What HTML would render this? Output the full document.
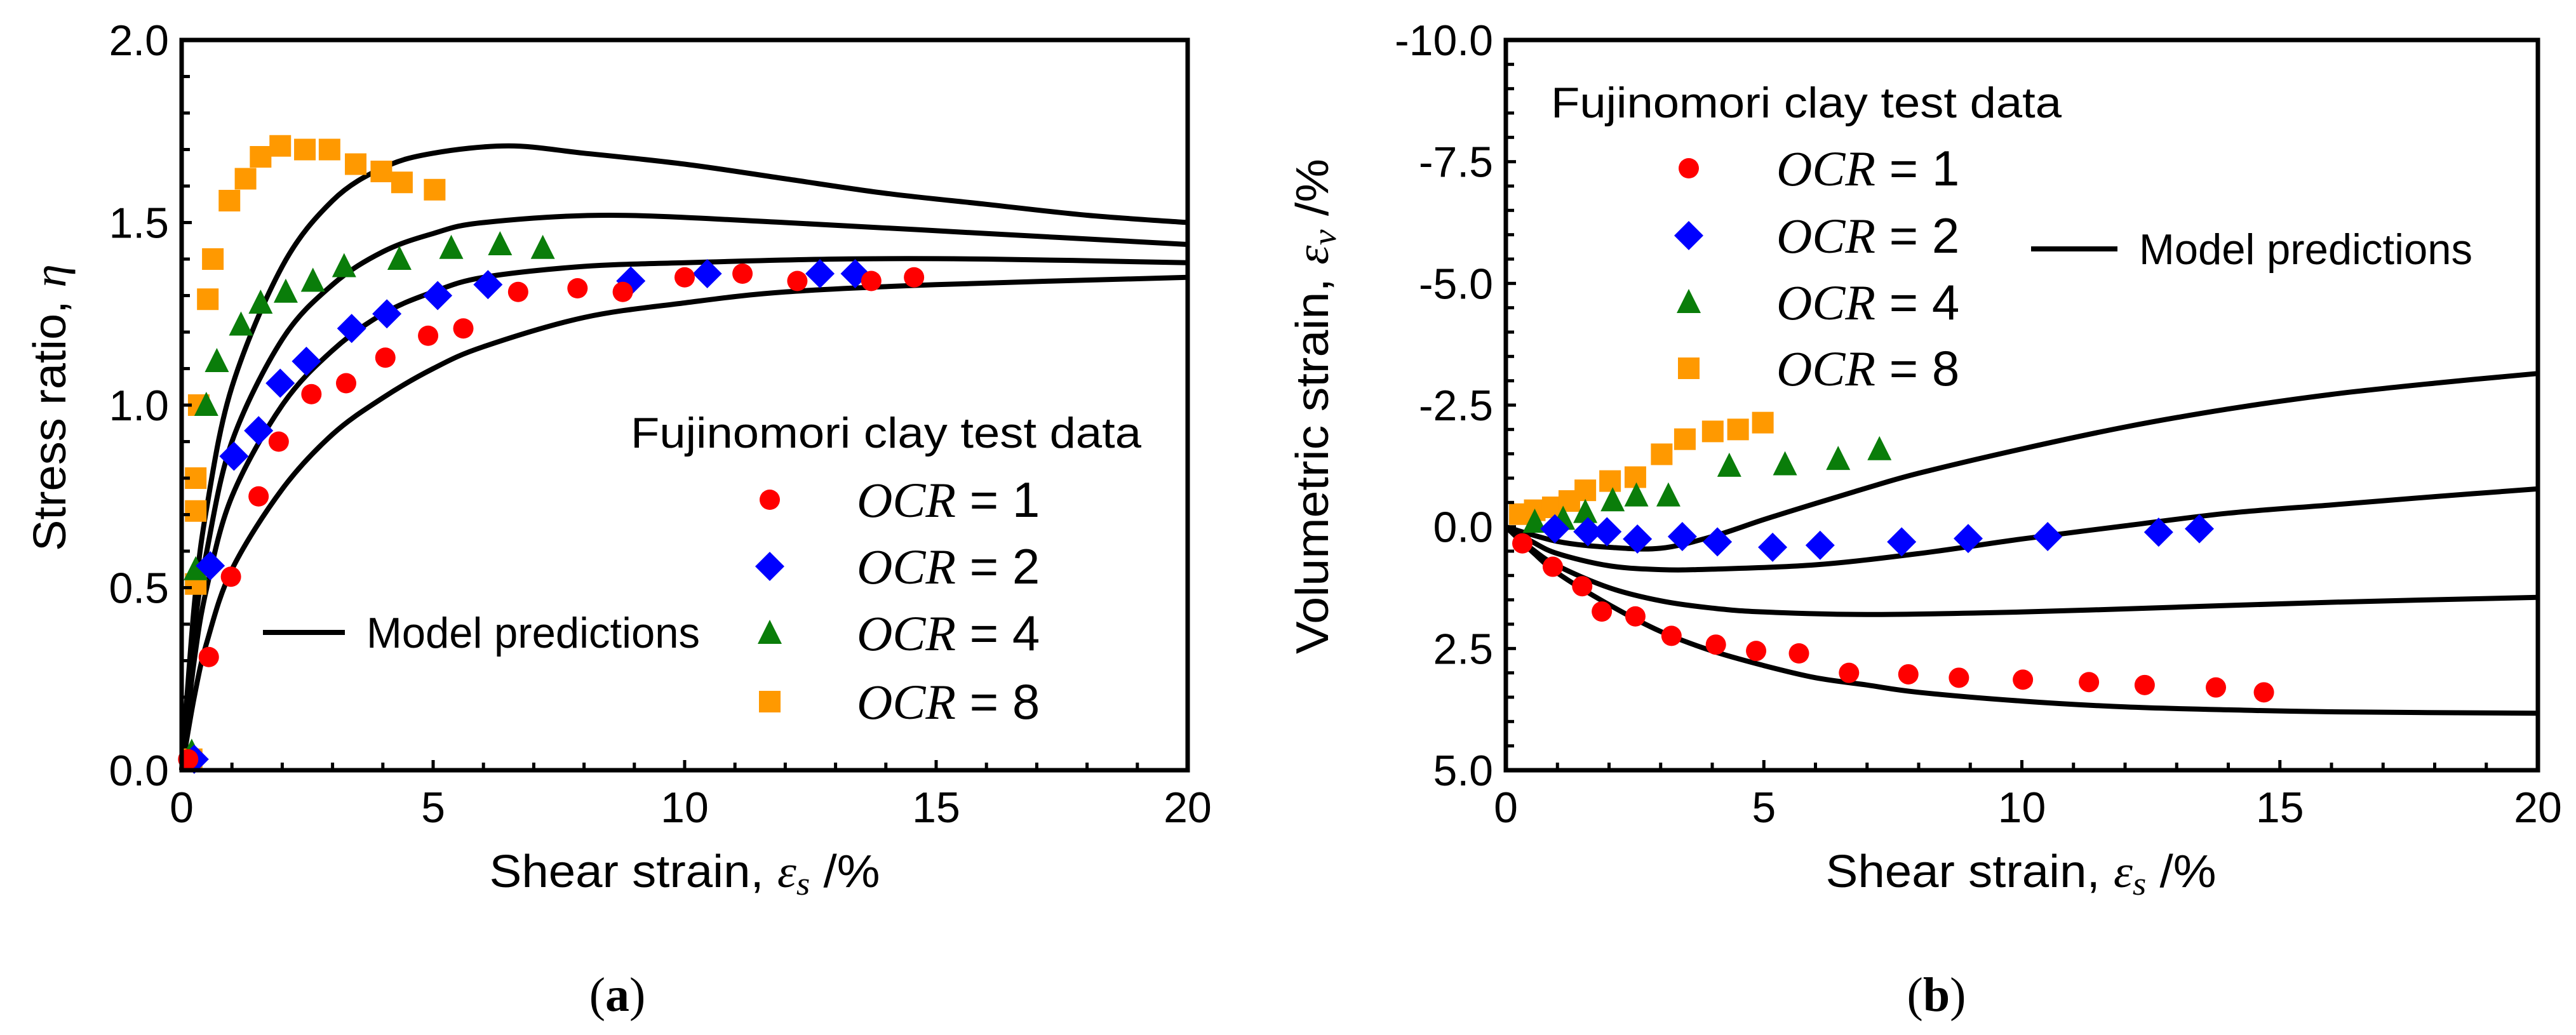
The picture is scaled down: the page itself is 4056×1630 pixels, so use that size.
<!DOCTYPE html>
<html><head><meta charset="utf-8"><style>
html,body{margin:0;padding:0;background:#fff;}
svg{display:block;}
text{font-family:"Liberation Sans",sans-serif;fill:#000;}
.ser{font-family:"Liberation Serif",serif;font-style:italic;}
</style></head><body>
<svg id="fig" width="4056" height="1630" viewBox="0 0 4056 1630" xmlns="http://www.w3.org/2000/svg">
<g id="pa"></g>
<g id="pb"></g>
</svg>
<script>
// ---------- Panel (a) data ----------
const aOcr1X=[0.13,0.54,0.98,1.53,1.93,2.58,3.27,4.05,4.9,5.6,6.69,7.87,8.77,10.0,11.15,12.24,13.71,14.56];
const aOcr1Y=[0.03,0.31,0.53,0.75,0.90,1.03,1.06,1.13,1.19,1.21,1.31,1.32,1.31,1.35,1.36,1.34,1.34,1.35];
const aOcr2X=[0.25,0.57,1.04,1.53,1.96,2.48,3.38,4.08,5.09,6.09,8.93,10.45,12.69,13.39];
const aOcr2Y=[0.03,0.56,0.86,0.93,1.06,1.12,1.21,1.25,1.30,1.33,1.34,1.36,1.36,1.36];
const aOcr4X=[0.2,0.28,0.49,0.7,1.18,1.57,2.07,2.61,3.23,4.33,5.36,6.33,7.18];
const aOcr4Y=[0.05,0.55,1.0,1.12,1.22,1.28,1.31,1.34,1.38,1.40,1.43,1.44,1.43];
const aOcr8X=[0.2,0.28,0.28,0.28,0.34,0.52,0.62,0.95,1.27,1.57,1.96,2.45,2.94,3.46,3.97,4.38,5.03];
const aOcr8Y=[0.03,0.51,0.71,0.80,1.0,1.29,1.40,1.56,1.62,1.68,1.71,1.70,1.70,1.66,1.64,1.61,1.59];
const aM1X=[0,0.25,0.5,1,2,3,4,5,6.5,8,10,12,14,16,18,20];
const aM1Y=[0,0.45,0.72,1.05,1.38,1.56,1.65,1.69,1.71,1.69,1.66,1.62,1.58,1.55,1.52,1.50];
const aM2X=[0,0.25,0.5,1,2,3,4,5,6,8.5,12,16,20];
const aM2Y=[0,0.38,0.6,0.9,1.18,1.33,1.42,1.47,1.50,1.52,1.50,1.47,1.44];
const aM3X=[0,0.25,0.5,1,2,3,4,5,6,8,10,13,16,20];
const aM3Y=[0,0.3,0.5,0.75,1.0,1.15,1.25,1.31,1.35,1.38,1.39,1.40,1.40,1.39];
const aM4X=[0,0.25,0.5,1,2,3,4,5,6,8,10,12,15,20];
const aM4Y=[0,0.2,0.35,0.55,0.77,0.92,1.02,1.10,1.16,1.24,1.28,1.31,1.33,1.35];
const aXTicks=[0,5,10,15,20];
const aYTicks=[0,0.5,1.0,1.5,2.0];
const aYLabels=["0.0","0.5","1.0","1.5","2.0"];
// ---------- Panel (b) data ----------
const bOcr1X=[0.32,0.91,1.48,1.86,2.51,3.21,4.07,4.85,5.68,6.65,7.8,8.78,10.02,11.3,12.38,13.76,14.69];
const bOcr1Y=[0.34,0.82,1.22,1.74,1.84,2.24,2.42,2.55,2.60,3.0,3.03,3.10,3.14,3.19,3.25,3.30,3.40];
const bOcr2X=[0.95,1.59,1.96,2.55,3.42,4.1,5.17,6.09,7.67,8.96,10.5,12.65,13.44];
const bOcr2Y=[0.04,0.1,0.1,0.25,0.2,0.31,0.42,0.38,0.31,0.24,0.2,0.11,0.04];
const bOcr4X=[0.56,1.11,1.54,2.07,2.53,3.15,4.33,5.41,6.44,7.24];
const bOcr4Y=[-0.1,-0.16,-0.30,-0.54,-0.64,-0.64,-1.25,-1.28,-1.39,-1.59];
const bOcr8X=[0.27,0.56,0.91,1.23,1.54,2.02,2.51,3.02,3.47,4.01,4.5,4.98];
const bOcr8Y=[-0.26,-0.34,-0.40,-0.53,-0.75,-0.94,-1.02,-1.49,-1.80,-1.96,-2.0,-2.14];
const bM1X=[0,1,2,3,4,5,6,7,8,10,12,14,16,18,20];
const bM1Y=[0,0.3,0.42,0.44,0.2,-0.15,-0.48,-0.8,-1.1,-1.6,-2.05,-2.42,-2.72,-2.95,-3.15];
const bM2X=[0,0.5,1,2,3,4,6,8,10,12,14,16,18,20];
const bM2Y=[0,0.3,0.55,0.8,0.88,0.87,0.78,0.55,0.25,-0.02,-0.28,-0.45,-0.62,-0.78];
const bM3X=[0,0.5,1,2,3,4,5,7,10,13,16,20];
const bM3Y=[0,0.45,0.8,1.25,1.52,1.67,1.75,1.8,1.75,1.65,1.55,1.45];
const bM4X=[0,0.5,1,2,3,4,5,6,7,8,10,12,14,16,20];
const bM4Y=[0,0.5,0.95,1.6,2.15,2.55,2.85,3.1,3.25,3.4,3.58,3.7,3.76,3.8,3.83];
const bXTicks=[0,5,10,15,20];
const bYTicks=[-10,-7.5,-5,-2.5,0,2.5,5];
const bYLabels=["-10.0","-7.5","-5.0","-2.5","0.0","2.5","5.0"];

const NS="http://www.w3.org/2000/svg";
function mk(tag,attrs,parent){const e=document.createElementNS(NS,tag);for(const k in attrs)e.setAttribute(k,attrs[k]);parent.appendChild(e);return e;}
const COL={r:"#ff0000",b:"#0000ff",g:"#0a7d0a",o:"#ff9900"};

function smoothPath(pts){
  let d="M"+pts[0][0].toFixed(1)+","+pts[0][1].toFixed(1);
  for(let i=0;i<pts.length-1;i++){
    const p0=pts[Math.max(0,i-1)],p1=pts[i],p2=pts[i+1],p3=pts[Math.min(pts.length-1,i+2)];
    const c1x=p1[0]+(p2[0]-p0[0])/6,c1y=p1[1]+(p2[1]-p0[1])/6;
    const c2x=p2[0]-(p3[0]-p1[0])/6,c2y=p2[1]-(p3[1]-p1[1])/6;
    d+=" C"+c1x.toFixed(1)+","+c1y.toFixed(1)+" "+c2x.toFixed(1)+","+c2y.toFixed(1)+" "+p2[0].toFixed(1)+","+p2[1].toFixed(1);
  }
  return d;
}
function marker(g,type,cx,cy){
  let e;
  if(type==="circle"){e=mk("ellipse",{cx:cx,cy:cy,rx:16,ry:16,fill:COL.r},g);}
  else if(type==="diamond"){e=mk("polygon",{points:`${cx},${cy-23} ${cx+23},${cy} ${cx},${cy+23} ${cx-23},${cy}`,fill:COL.b},g);}
  else if(type==="triangle"){e=mk("polygon",{points:`${cx},${cy-21} ${cx+19},${cy+17} ${cx-19},${cy+17}`,fill:COL.g},g);}
  else {e=mk("rect",{x:cx-17,y:cy-17,width:34,height:34,fill:COL.o},g);}
  return e;
}

function panel(g,cfg){
  const {L,R,T,B,x0,x1,y0,y1}=cfg;
  const sx=v=>L+(v-x0)/(x1-x0)*(R-L);
  const sy=v=>B-(v-y0)/(y1-y0)*(B-T);
  // model curves
  cfg.models.forEach((m,i)=>{
    const pts=m[0].map((x,j)=>[sx(x),sy(m[1][j])]);
    const p=mk("path",{d:smoothPath(pts),fill:"none",stroke:"#000","stroke-width":8,"stroke-linejoin":"round"},g);
    
    
  });
  // data markers
  cfg.series.forEach(s=>{
    const sg=mk("g",{},g);
    
    
    s.x.forEach((x,j)=>{
      const e=marker(sg,s.type,sx(x),sy(s.y[j]));
      
      
    });
  });
  // axes frame
  const fr=mk("rect",{x:L,y:T,width:R-L,height:B-T,fill:"none",stroke:"#000","stroke-width":7},g);
  
  
  // x ticks
  for(let v=x0;v<=x1+1e-9;v+=cfg.xMinor){
    const major=cfg.xTicks.some(t=>Math.abs(t-v)<1e-6);
    const t=mk("line",{x1:sx(v),x2:sx(v),y1:B,y2:B-(major?16:12),stroke:"#000","stroke-width":5},g);
    
    
  }
  cfg.xTicks.forEach(v=>{
    const t=mk("text",{x:sx(v),y:B+82,"font-size":68,"text-anchor":"middle"},g);t.textContent=String(v);
    
    
  });
  for(let k=0;k<=Math.round((y1-y0)/cfg.yMinor);k++){
    const v=y0+k*cfg.yMinor;
    const major=cfg.yTicks.some(t=>Math.abs(t-v)<1e-6);
    const t=mk("line",{x1:L,x2:L+(major?16:13),y1:sy(v),y2:sy(v),stroke:"#000","stroke-width":5},g);
    
    
  }
  cfg.yTicks.forEach((v,i)=>{
    const t=mk("text",{x:L-20,y:sy(v)+24,"font-size":68,"text-anchor":"end"},g);t.textContent=cfg.yLabels[i];
    
    
  });
}

const pa=document.getElementById("pa"), pb=document.getElementById("pb");
panel(pa,{L:286,R:1870,T:63,B:1213,x0:0,x1:20,y0:0,y1:2,xMinor:1,yMinor:0.1,
  xTicks:aXTicks,yTicks:aYTicks,yLabels:aYLabels,
  models:[[aM1X,aM1Y],[aM2X,aM2Y],[aM3X,aM3Y],[aM4X,aM4Y]],
  series:[{name:"ocr8-points",type:"square",x:aOcr8X,y:aOcr8Y},{name:"ocr4-points",type:"triangle",x:aOcr4X,y:aOcr4Y},
          {name:"ocr2-points",type:"diamond",x:aOcr2X,y:aOcr2Y},{name:"ocr1-points",type:"circle",x:aOcr1X,y:aOcr1Y}]});
panel(pb,{L:2371,R:3996,T:63,B:1213,x0:0,x1:20,y0:5,y1:-10,xMinor:1,yMinor:-0.5,
  xTicks:bXTicks,yTicks:bYTicks,yLabels:bYLabels,
  models:[[bM1X,bM1Y],[bM2X,bM2Y],[bM3X,bM3Y],[bM4X,bM4Y]],
  series:[{name:"ocr8-points",type:"square",x:bOcr8X,y:bOcr8Y},{name:"ocr4-points",type:"triangle",x:bOcr4X,y:bOcr4Y},
          {name:"ocr2-points",type:"diamond",x:bOcr2X,y:bOcr2Y},{name:"ocr1-points",type:"circle",x:bOcr1X,y:bOcr1Y}]});

function legend(g,o){
  const lg=mk("g",{},g);
  
  
  const t=mk("text",{x:o.tx,y:o.ty+24,"font-size":68,textLength:804,lengthAdjust:"spacingAndGlyphs"},lg);
  t.textContent="Fujinomori clay test data";
  
  
  const types=["circle","diamond","triangle","square"],labs=["1","2","4","8"];
  o.rows.forEach((ry,i)=>{
    const m=marker(lg,types[i],o.mx,ry);
    
    
    const tx=mk("text",{x:o.lx,y:ry+27,"font-size":78},lg);
    const it=mk("tspan",{class:"ser"},tx);it.textContent="OCR";
    const rest=mk("tspan",{},tx);rest.textContent=" = "+labs[i];
    
    
  });
  const ln=mk("line",{x1:o.l1,x2:o.l2,y1:o.ly,y2:o.ly,stroke:"#000","stroke-width":8},lg);
  
  
  const mt=mk("text",{x:o.l2+34,y:o.ly+24,"font-size":68,textLength:525,lengthAdjust:"spacingAndGlyphs"},lg);
  mt.textContent="Model predictions";
  
  
}
legend(pa,{tx:993,ty:681,mx:1212,lx:1349,rows:[787,892,997,1105],l1:414,l2:543,ly:996});
legend(pb,{tx:2442,ty:161,mx:2659,lx:2797,rows:[265,371,476,580],l1:3198,l2:3334,ly:392});

function label(g,txt,x,y,rot,len,name){
  const t=mk("text",{x:x,y:y,"font-size":72,"text-anchor":"middle",textLength:len,lengthAdjust:"spacingAndGlyphs"},g);
  if(rot)t.setAttribute("transform",`rotate(-90 ${x} ${y})`);
  t.innerHTML=txt;
  
  
}
label(pa,'Shear strain, <tspan class="ser">ε</tspan><tspan class="ser" font-size="52" dy="12">s</tspan><tspan dy="-12"> /%</tspan>',1078,1397,false,615,'x-axis-title');
label(pa,'Stress ratio, <tspan class="ser">η</tspan>',103,642,true,452,'y-axis-title');
label(pb,'Shear strain, <tspan class="ser">ε</tspan><tspan class="ser" font-size="52" dy="12">s</tspan><tspan dy="-12"> /%</tspan>',3182,1397,false,615,'x-axis-title');
label(pb,'Volumetric strain, <tspan class="ser">ε</tspan><tspan class="ser" font-size="52" dy="12">v</tspan><tspan dy="-12"> /%</tspan>',2091,640,true,780,'y-axis-title');

const ca=mk("text",{x:972,y:1592,"font-size":76,"text-anchor":"middle",style:"font-family:'Liberation Serif',serif"},pa);
ca.innerHTML='(<tspan font-weight="bold">a</tspan>)';


const cb=mk("text",{x:3049,y:1592,"font-size":76,"text-anchor":"middle",style:"font-family:'Liberation Serif',serif"},pb);
cb.innerHTML='(<tspan font-weight="bold">b</tspan>)';


</script>
</body></html>
